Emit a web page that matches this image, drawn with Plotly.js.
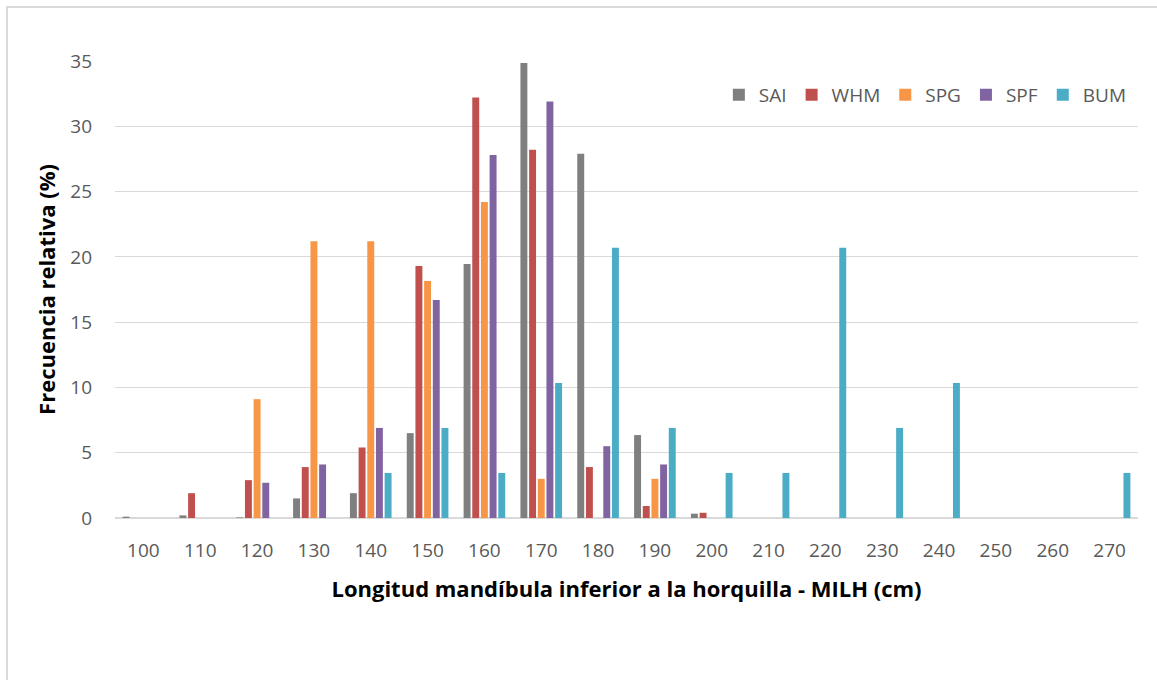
<!DOCTYPE html>
<html>
<head>
<meta charset="utf-8">
<script src="https://cdn.plot.ly/plotly-3.0.1.min.js"></script>
<style>
  html, body { margin: 0; padding: 0; background: #ffffff; overflow: hidden; }
  #chart { width: 1157px; height: 680px; position: absolute; left: 0; top: 0; }
  #frame { position: absolute; left: 6px; top: 6px; width: 1170px; height: 700px;
           border: 2px solid #d9d9d9; box-sizing: border-box; pointer-events: none; }
</style>
</head>
<body>
<div id="chart"></div>
<div id="frame"></div>
<script>
const categories = ["100","110","120","130","140","150","160","170","180","190","200","210","220","230","240","250","260","270"];
const seriesNames = ["SAI","WHM","SPG","SPF","BUM"];
const SAI = [0.1, 0.2, 0.05, 1.5, 1.9, 6.5, 19.45, 34.85, 27.9, 6.35, 0.33, 0, 0, 0, 0, 0, 0, 0];
const WHM = [0, 1.9, 2.9, 3.9, 5.4, 19.3, 32.2, 28.2, 3.9, 0.92, 0.4, 0, 0, 0, 0, 0, 0, 0];
const SPG = [0, 0, 9.1, 21.2, 21.2, 18.15, 24.2, 3.0, 0, 3.0, 0, 0, 0, 0, 0, 0, 0, 0];
const SPF = [0, 0, 2.7, 4.1, 6.9, 16.7, 27.8, 31.9, 5.5, 4.1, 0, 0, 0, 0, 0, 0, 0, 0];
const BUM = [0, 0, 0, 0, 3.45, 6.9, 3.45, 10.34, 20.69, 6.9, 3.45, 3.45, 20.69, 6.9, 10.34, 0, 0, 3.45];
const yTicks = [0, 5, 10, 15, 20, 25, 30, 35];
const colors = ["#7f7f7f", "#c0504d", "#f79646", "#8064a2", "#4bacc6"];
const values = [SAI, WHM, SPG, SPF, BUM];

const FONT = "'Open Sans', 'Liberation Sans', sans-serif";

const traces = seriesNames.map((name, i) => ({
  type: "bar",
  name: name,
  x: categories,
  y: values[i],
  marker: { color: colors[i], line: { width: 0 } },
  hoverinfo: "x+y+name"
}));

const layout = {
  width: 1157,
  height: 680,
  margin: { l: 115, r: 19, t: 61, b: 162 },
  paper_bgcolor: "#ffffff",
  plot_bgcolor: "#ffffff",
  barmode: "group",
  bargap: 0.237,
  bargroupgap: 0.2,
  font: { family: FONT, color: "#595959", size: 19 },
  showlegend: true,
  legend: {
    orientation: "h",
    x: 0.994, xanchor: "right",
    y: 0.926, yanchor: "middle",
    font: { family: FONT, size: 19, color: "#595959" },
    itemwidth: 30,
    tracegroupgap: 0,
    bgcolor: "rgba(255,255,255,0)"
  },
  xaxis: {
    type: "category",
    categoryorder: "array",
    categoryarray: categories,
    showgrid: false,
    showline: false,
    zeroline: false,
    ticks: "",
    tickfont: { family: FONT, size: 19, color: "#595959" },
    ticklabelstandoff: 19,
    title: {
      text: "Longitud mandíbula inferior a la horquilla - MILH (cm)",
      font: { family: FONT, size: 22, color: "#000000", weight: "bold" },
      standoff: 19
    }
  },
  yaxis: {
    range: [0, 35],
    tickvals: yTicks,
    ticktext: yTicks.map(String),
    showgrid: true,
    gridcolor: "#d9d9d9",
    gridwidth: 1,
    zeroline: true,
    zerolinecolor: "#d9d9d9",
    zerolinewidth: 2,
    showline: false,
    ticks: "",
    tickfont: { family: FONT, size: 19, color: "#595959" },
    ticklabelstandoff: 22,
    title: {
      text: "Frecuencia relativa (%)",
      font: { family: FONT, size: 22, color: "#000000", weight: "bold" },
      standoff: 8
    }
  }
};

Plotly.newPlot("chart", traces, layout, { displayModeBar: false, staticPlot: true });
</script>
</body>
</html>
